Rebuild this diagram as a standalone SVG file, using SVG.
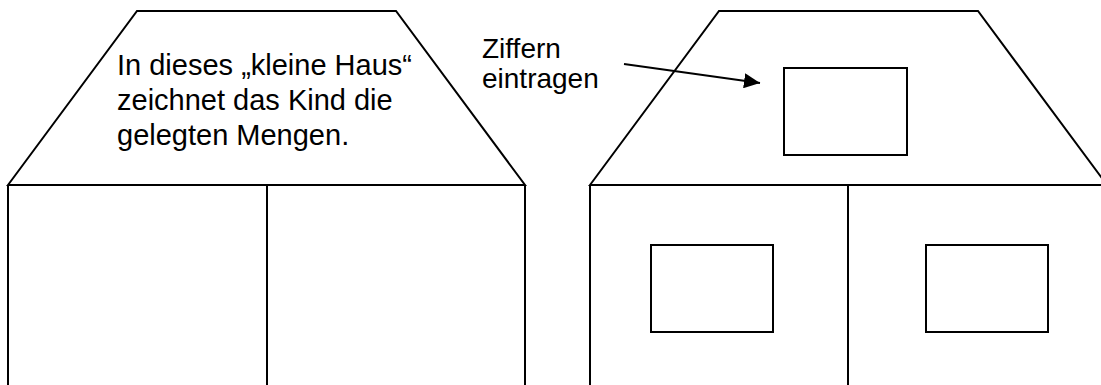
<svg xmlns="http://www.w3.org/2000/svg" width="1101" height="385" viewBox="0 0 1101 385">
<style>
.ln{fill:none;stroke:#000;stroke-width:2;stroke-linejoin:miter}
.tx{font-family:"Liberation Sans",Arial,sans-serif;font-size:29px;fill:#000}
.lb{font-family:"Liberation Sans",Arial,sans-serif;font-size:28px;fill:#000}
</style>
<defs>
<marker id="ah" markerUnits="userSpaceOnUse" markerWidth="16" markerHeight="15" refX="16" refY="7.5" orient="auto">
<path d="M0,0 L16,7.5 L0,15 z" fill="#000"/>
</marker>
</defs>
<rect width="1101" height="385" fill="#fff"/>
<g id="house-left">
<polygon class="ln" points="8,185 137,11 396,11 525,185"/>
<path class="ln" d="M8,185 V387 M525,185 V387 M267,185 V387"/>
<text class="tx" x="117" y="75">In dieses „kleine Haus“</text>
<text class="tx" x="117" y="110">zeichnet das Kind die</text>
<text class="tx" x="117" y="145">gelegten Mengen.</text>
</g>
<g id="house-right">
<polygon class="ln" points="590,185 719,11 978,11 1107,185"/>
<path class="ln" d="M590,185 V387 M848,185 V387 M1107,185 V387"/>
<rect id="window-top" class="ln" x="784" y="68" width="123" height="87"/>
<rect id="window-left" class="ln" x="651" y="245" width="122" height="87"/>
<rect id="window-right" class="ln" x="926" y="245" width="122" height="87"/>
</g>
<g id="label">
<text class="lb" x="482" y="58">Ziffern</text>
<text class="lb" x="482" y="88">eintragen</text>
</g>
<g id="connectors">
<line x1="624" y1="64" x2="760" y2="83" stroke="#000" stroke-width="2" marker-end="url(#ah)"/>
</g>
</svg>
